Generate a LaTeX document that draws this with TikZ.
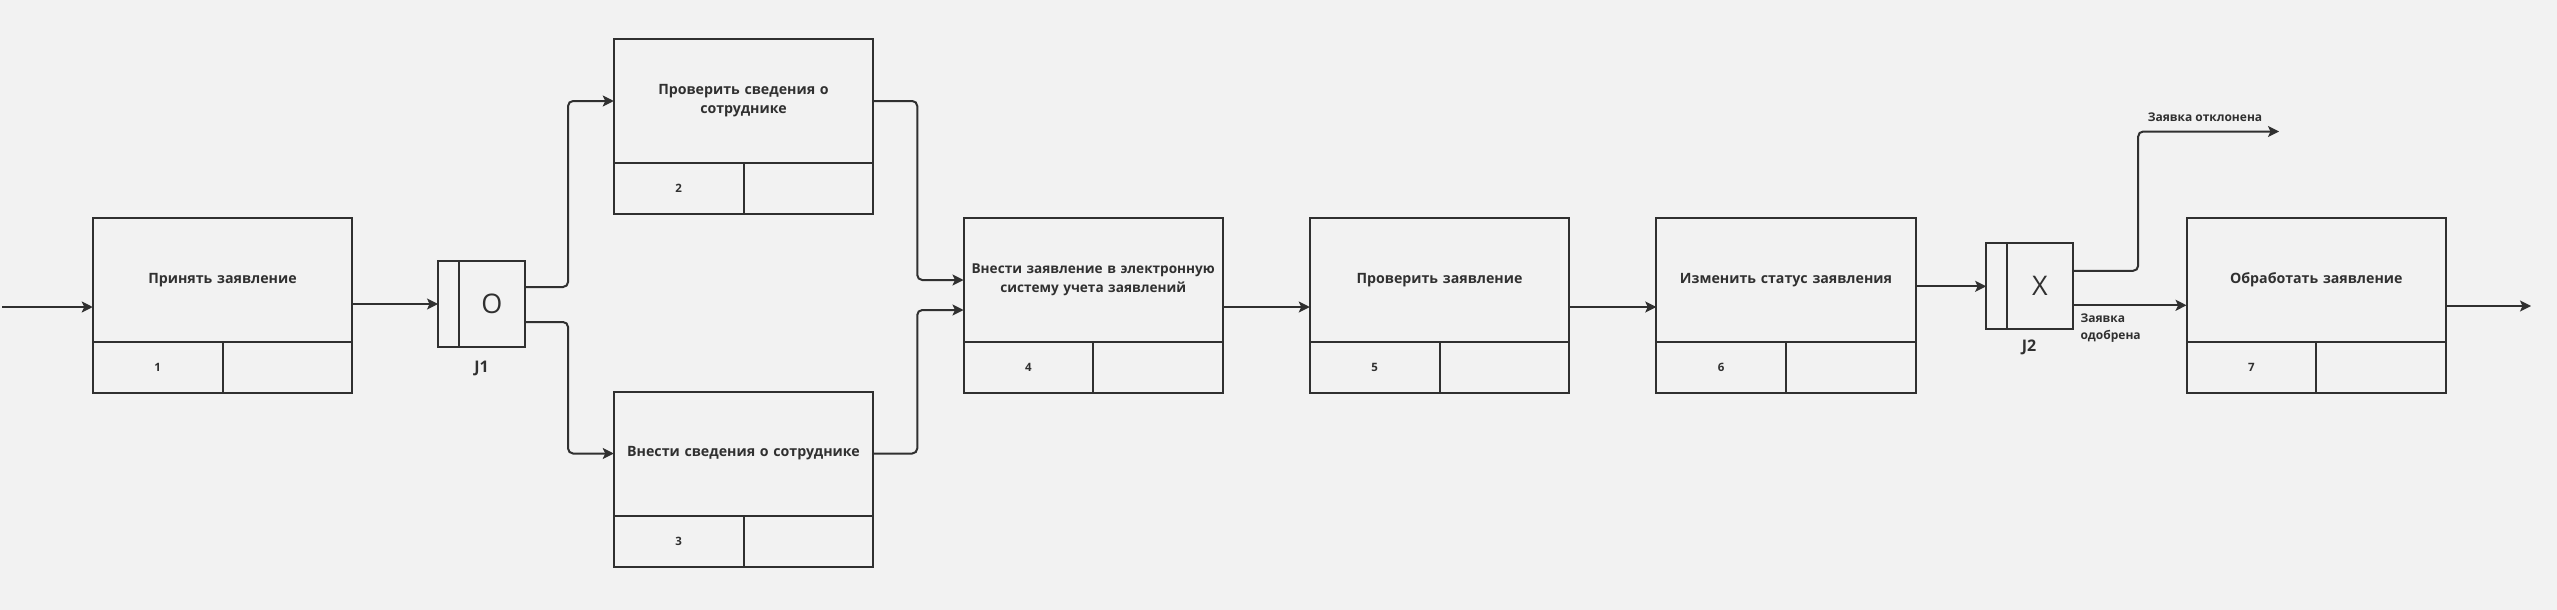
\documentclass[tikz,border=0pt]{standalone}
\usepackage{fontspec}
\setmainfont{Open Sans}
\newcommand\semib{\bfseries}
\usetikzlibrary{arrows.meta,positioning}
\definecolor{ink}{RGB}{48,48,48}
\definecolor{paper}{RGB}{242,242,242}

\begin{document}
\begin{tikzpicture}[x=1pt,y=1pt,yscale=-1,xscale=1,
  every node/.style={text=ink},
  proc/.style={draw=ink, line width=2pt, outer sep=0pt, inner xsep=0pt, minimum width=259.5pt, minimum height=124pt, text width=258pt, align=center, font=\fontsize{14.2}{19}\semib\selectfont},
  cell/.style={draw=ink, line width=2pt, outer sep=0pt, minimum width=129.75pt, minimum height=51pt, font=\fontsize{11.5}{14}\semib\selectfont},
  jbar/.style={draw=ink, line width=2pt, outer sep=0pt, minimum width=20.5pt, minimum height=86pt},
  jbox/.style={draw=ink, line width=2pt, outer sep=0pt, minimum width=66.5pt, minimum height=86pt, font=\fontsize{27}{30}\selectfont},
  jlab/.style={font=\fontsize{16}{18}\semib\selectfont},
  note/.style={font=\fontsize{12}{17.5}\semib\selectfont, align=left},
  link/.style={draw=ink, line width=2pt, rounded corners=5pt, -{Stealth[length=11pt,width=11pt,inset=2.5pt]}}
]
%set diagram to the reference size
\fill[paper] (0,0) rectangle (2557,610);
\useasboundingbox (0,0) rectangle (2557,610);

%Shape: Process boxes
\node[proc] (b1) at (222.5,280) {Принять заявление};
\node[cell, anchor=north west] (b1n) at (b1.south west) {1};
\node[cell, anchor=north east] (b1r) at (b1.south east) {};

\node[proc] (b2) at (743.5,101) {Проверить сведения о\\сотруднике};
\node[cell, anchor=north west] (b2n) at (b2.south west) {2};
\node[cell, anchor=north east] (b2r) at (b2.south east) {};

\node[proc] (b3) at (743.5,453.5) {Внести сведения о сотруднике};
\node[cell, anchor=north west] (b3n) at (b3.south west) {3};
\node[cell, anchor=north east] (b3r) at (b3.south east) {};

\node[proc, font=\fontsize{13.6}{19}\semib\selectfont] (b4) at (1093.25,280) {Внести заявление в электронную\\систему учета заявлений};
\node[cell, anchor=north west] (b4n) at (b4.south west) {4};
\node[cell, anchor=north east] (b4r) at (b4.south east) {};

\node[proc] (b5) at (1439.5,280) {Проверить заявление};
\node[cell, anchor=north west] (b5n) at (b5.south west) {5};
\node[cell, anchor=north east] (b5r) at (b5.south east) {};

\node[proc] (b6) at (1786,280) {Изменить статус заявления};
\node[cell, anchor=north west] (b6n) at (b6.south west) {6};
\node[cell, anchor=north east] (b6r) at (b6.south east) {};

\node[proc] (b7) at (2316.3,280) {Обработать заявление};
\node[cell, anchor=north west] (b7n) at (b7.south west) {7};
\node[cell, anchor=north east] (b7r) at (b7.south east) {};

%Shape: Junctions
\node[jbar] (j1bar) at (448.3,304) {};
\node[jbox, anchor=west] (j1) at (j1bar.east) {O};
\node[jlab] (j1lab) at (481.5,368) {J1};

\node[jbar] (j2bar) at (1996.4,286.3) {};
\node[jbox, anchor=west] (j2) at (j2bar.east) {X};
\node[jlab] (j2lab) at (2029,347) {J2};

%Straight Lines: connectors (yshift runs downwards here)
\coordinate (src) at (2,307);
\coordinate (rej) at (2279,131.5);
\coordinate (out) at (2531,306);
\draw[link] (src) -- (src -| b1.west);
\draw[link] (b1.east |- j1bar.west) -- (j1bar.west);
\draw[link] ([yshift=-17pt]j1.east) -- ++(43,0) |- (b2.west);
\draw[link] ([yshift=18pt]j1.east) -- ++(43,0) |- (b3.west);
\draw[link] (b2.east) -- ++(44,0) |- (b4.west);
\draw[link] (b3.east) -- ++(44,0) |- ([yshift=30pt]b4.west);
\draw[link] ([yshift=27pt]b4.east) -- ([yshift=27pt]b5.west);
\draw[link] ([yshift=27pt]b5.east) -- ([yshift=27pt]b6.west);
\draw[link] (b6.east |- j2bar.west) -- (j2bar.west);
\draw[link] ([yshift=-15.5pt]j2.east) -- ++(65,0) |- (rej);
\draw[link] ([yshift=19pt]j2.east) -- ([yshift=19pt]j2.east -| b7.west);
\draw[link] (b7.east |- out) -- (out);

% Text Node
\node[note] (rejlab) at (2205,117) {Заявка отклонена};
% Text Node
\node[note, anchor=west] (acclab) at (2077,328) {Заявка\\одобрена};

\end{tikzpicture}
\end{document}
